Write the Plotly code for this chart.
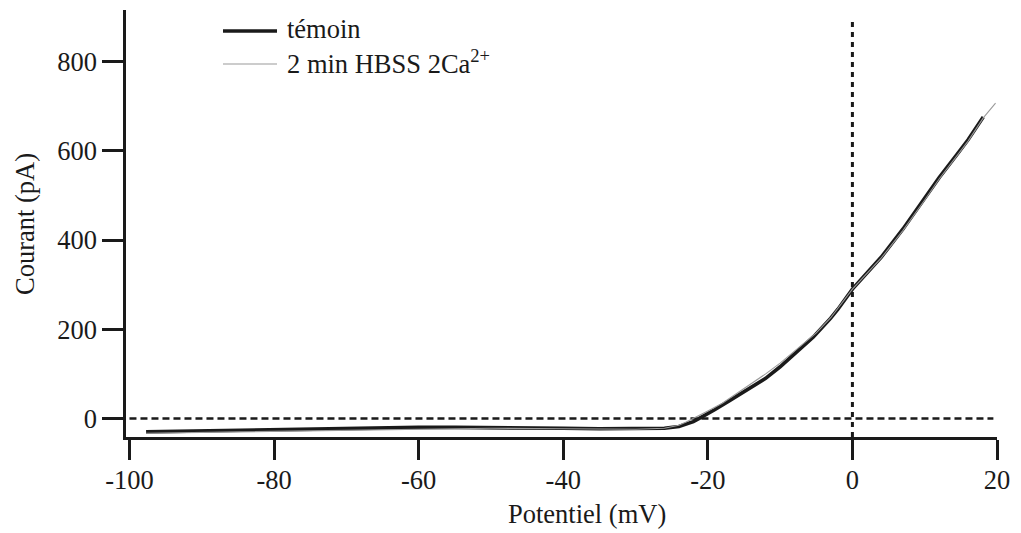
import plotly.graph_objects as go

# Current-voltage relations (potential in mV, current in pA)
temoin_mv = [-97.7, -94, -90, -85, -80, -75, -70, -65, -60, -55, -50, -45, -40,
             -35, -30, -26, -24, -23, -22, -21, -20, -19, -17, -14.5, -12, -10,
             -8, -5.4, -3, -2, 0, 2, 4, 7, 10, 12, 14.5, 16, 18.1]
temoin_pa = [-30, -29, -27, -25, -24, -23, -21, -20, -20, -20, -20, -21, -22,
             -23, -23, -22, -18, -13, -7, 2, 10, 20, 40, 64, 90, 116,
             144, 183, 225, 245, 290, 326, 362, 425, 495, 540, 593, 625, 676]

hbss_mv = [-97.7, -90, -80, -70, -60, -50, -40, -30, -26, -24, -23, -22, -21,
           -20, -18, -15, -12, -10, -8, -5, -3, 0, 4, 7, 10, 12, 14.5, 16,
           18.1, 19.8]
hbss_pa = [-33, -31, -29, -27, -24, -22, -23, -24, -22, -15, -8, 0, 8,
           17, 34, 66, 100, 124, 152, 192, 226, 290, 360, 422, 490, 537, 590,
           622, 674, 707]

x_ticks = [-100, -80, -60, -40, -20, 0, 20]
x_tick_text = ["-100", "-80", "-60", "-40", "-20", "0", "20"]
y_ticks = [0, 200, 400, 600, 800]
y_tick_text = ["0", "200", "400", "600", "800"]

legend_labels = ["témoin", "2 min HBSS 2Ca<sup>2+</sup>"]

FONT = "'Liberation Serif', 'Times New Roman', 'DejaVu Serif', serif"
FS = 26.5
INK = "#1a1a1a"
GREY = "#9a9a9a"

W, H = 1021, 533
ML, MR, MT, MB = 126, 24, 10, 96
PW, PH = W - ML - MR, H - MT - MB


def px(x):
    return (x - ML) / PW


def py(y):
    return (H - MB - y) / PH


fig = go.Figure()
fig.add_trace(go.Scatter(x=temoin_mv, y=temoin_pa, mode="lines",
                         line=dict(color=INK, width=3.6), name="témoin",
                         showlegend=False))
fig.add_trace(go.Scatter(x=hbss_mv, y=hbss_pa, mode="lines",
                         line=dict(color=GREY, width=1.1), name="2 min HBSS 2Ca2+",
                         showlegend=False))

# zero-current and zero-potential guides
fig.add_shape(type="line", xref="x", yref="y", x0=-100, x1=19.5, y0=0, y1=0,
              line=dict(color=INK, width=2.5, dash="7px,4px"), layer="below")
fig.add_shape(type="line", xref="x", yref="y", x0=0, x1=0, y0=-41.5, y1=898,
              line=dict(color=INK, width=3, dash="5px,5px"), layer="below")

# legend
legend_rows = [(31, INK, 3.6), (64, GREY, 1.1)]
for (yy, col, wd), lab in zip(legend_rows, legend_labels):
    fig.add_shape(type="line", xref="paper", yref="paper",
                  x0=px(223), x1=px(277), y0=py(yy), y1=py(yy),
                  line=dict(color=col, width=wd))
    fig.add_annotation(x=px(285), y=py(yy - 2), xref="paper", yref="paper",
                       text=lab, showarrow=False, xanchor="left", yanchor="middle",
                       font=dict(family=FONT, size=FS, color=INK))

# axis titles
fig.add_annotation(x=px(587), y=py(514), xref="paper", yref="paper",
                   text="Potentiel (mV)", showarrow=False, xanchor="center",
                   yanchor="middle", font=dict(family=FONT, size=FS, color=INK))
fig.add_annotation(x=px(25), y=py(224), xref="paper", yref="paper",
                   text="Courant (pA)", showarrow=False, textangle=-90,
                   xanchor="center", yanchor="middle",
                   font=dict(family=FONT, size=FS, color=INK))

axis_common = dict(showgrid=False, zeroline=False, showline=True,
                   linecolor=INK, linewidth=2.5, ticks="outside",
                   tickcolor=INK, tickwidth=2.5,
                   tickfont=dict(family=FONT, size=FS, color=INK))

fig.update_xaxes(range=[-100.48, 20], tickvals=x_ticks, ticktext=x_tick_text,
                 ticklen=20, ticklabelstandoff=-3, **axis_common)
fig.update_yaxes(range=[-41.5, 916], tickvals=y_ticks, ticktext=y_tick_text,
                 ticklen=21, **axis_common)

fig.update_layout(width=W, height=H, margin=dict(l=ML, r=MR, t=MT, b=MB),
                  plot_bgcolor="white", paper_bgcolor="white",
                  font=dict(family=FONT, color=INK))

fig.write_html("out.html")
